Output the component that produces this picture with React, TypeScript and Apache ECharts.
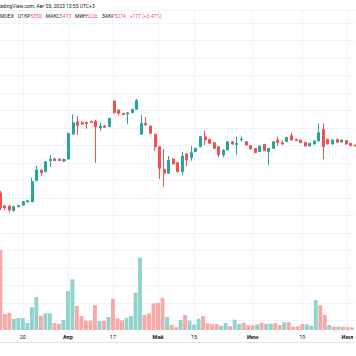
import { useEffect, useRef } from "react";
import * as echarts from "echarts";

const dates = [
  "2023-03-13","2023-03-14","2023-03-15","2023-03-16","2023-03-17","2023-03-20","2023-03-21","2023-03-22","2023-03-23","2023-03-24",
  "2023-03-27","2023-03-28","2023-03-29","2023-03-30","2023-03-31","2023-04-03","2023-04-04","2023-04-05","2023-04-06","2023-04-07",
  "2023-04-10","2023-04-11","2023-04-12","2023-04-13","2023-04-14","2023-04-17","2023-04-18","2023-04-19","2023-04-20","2023-04-21",
  "2023-04-24","2023-04-25","2023-04-26","2023-04-27","2023-04-28","2023-05-02","2023-05-03","2023-05-04","2023-05-05","2023-05-08",
  "2023-05-10","2023-05-11","2023-05-12","2023-05-15","2023-05-16","2023-05-17","2023-05-18","2023-05-19","2023-05-22","2023-05-23",
  "2023-05-24","2023-05-25","2023-05-26","2023-05-29","2023-05-30","2023-05-31","2023-06-01","2023-06-02","2023-06-05","2023-06-06",
  "2023-06-07","2023-06-08","2023-06-09","2023-06-13","2023-06-14","2023-06-15","2023-06-16","2023-06-19","2023-06-20","2023-06-21",
  "2023-06-22","2023-06-23","2023-06-26","2023-06-27","2023-06-28","2023-06-29","2023-06-30","2023-07-03","2023-07-04",
];

const opens = [
  3375, 3245, 3245, 3198, 3238, 3255, 3285, 3288, 3498, 3605,
  3588, 3698, 3718, 3715, 3695, 3715, 3965, 4088, 4078, 4080,
  4092, 4092, 4028, 4045, 4038, 4295, 4205, 4172, 4165, 4178,
  4212, 3962, 4072, 4045, 3962, 3838, 3612, 3572, 3715, 3678,
  3588, 3765, 3732, 3788, 3838, 3938, 3912, 3878, 3838, 3755,
  3805, 3888, 3860, 3907, 3888, 3848, 3822, 3788, 3862, 3788,
  3822, 3905, 3878, 3888, 3948, 3912, 3905, 3882, 3845, 3865,
  3895, 4012, 3912, 3865, 3912, 3885, 3898, 3872, 3855,
];
const closes = [
  3225, 3225, 3205, 3238, 3248, 3288, 3298, 3488, 3605, 3578,
  3688, 3715, 3698, 3698, 3710, 3972, 4078, 4048, 4065, 4070,
  4082, 4038, 4045, 4032, 4122, 4178, 4172, 4158, 4178, 4212,
  4298, 4072, 4055, 3972, 3838, 3622, 3572, 3705, 3665, 3588,
  3745, 3705, 3778, 3822, 3938, 3905, 3872, 3822, 3755, 3805,
  3888, 3865, 3870, 3915, 3855, 3815, 3778, 3845, 3798, 3822,
  3888, 3878, 3865, 3932, 3905, 3898, 3878, 3845, 3872, 3895,
  3978, 3838, 3865, 3905, 3882, 3905, 3865, 3848, 3845,
];
const lows = [
  3205, 3205, 3179, 3190, 3230, 3250, 3280, 3285, 3495, 3548,
  3585, 3635, 3695, 3695, 3685, 3705, 3960, 3955, 4055, 4018,
  4075, 3678, 3998, 4025, 4035, 4170, 4148, 4155, 4065, 4175,
  4210, 3960, 4050, 3965, 3795, 3515, 3438, 3570, 3660, 3585,
  3555, 3645, 3698, 3785, 3835, 3855, 3865, 3815, 3732, 3732,
  3800, 3860, 3755, 3888, 3850, 3810, 3775, 3785, 3795, 3655,
  3820, 3848, 3855, 3885, 3900, 3895, 3875, 3840, 3840, 3860,
  3890, 3712, 3860, 3860, 3878, 3880, 3860, 3845, 3840,
];
const highs = [
  3395, 3255, 3255, 3250, 3260, 3295, 3305, 3528, 3645, 3610,
  3695, 3755, 3725, 3720, 3720, 3975, 4162, 4145, 4095, 4090,
  4100, 4105, 4075, 4055, 4125, 4300, 4210, 4175, 4180, 4215,
  4315, 4155, 4132, 4050, 3965, 3840, 3815, 3745, 3720, 3685,
  3785, 3775, 3845, 3825, 3945, 3998, 3920, 3885, 3845, 3810,
  3895, 3895, 3938, 3938, 3895, 3855, 3825, 3850, 3865, 3825,
  3890, 3938, 3905, 3935, 3978, 3915, 3908, 3885, 3875, 3900,
  4072, 4072, 3915, 3910, 3915, 3908, 3902, 3875, 3858,
];
const volumes = [
  80, 16, 17.3, 11, 12, 12, 7, 22.7, 33, 14.3,
  16.7, 16.7, 7, 6, 10, 39, 50.7, 24, 14, 9.3,
  9.3, 25, 9, 9, 13, 31.3, 11.7, 9.7, 12, 14,
  37.3, 72.3, 15, 16.7, 26.7, 27, 32, 13, 5.3, 2.7,
  10, 15, 9.3, 5.3, 11.3, 14, 6.7, 5.7, 6, 4.3,
  7, 4, 10.3, 6, 7.3, 4.7, 4.7, 5.7, 7.3, 6,
  6.3, 7, 5, 7.7, 8, 3.3, 3.7, 6, 5.7, 4.3,
  30, 24.7, 15, 5, 3.3, 3.3, 3.3, 3, 2.7,
];

const tickDates = ["2023-03-20","2023-04-03","2023-04-17","2023-05-02","2023-05-15","2023-06-01","2023-06-19","2023-07-03"];
const tickTexts = ["20","Апр","17","Май","15","Июн","19","Июл"];
const monthTexts = ["Апр","Май","Июн","Июл"];

const headerLine = "adingView.com, Авг 03, 2023 13:55 UTC+3";
const legendSymbol = "MOEX";
const legendLabels = ["ОТКР","МАКС","МИН","ЗАКР"];
const legendValues = ["5350","5475","5226","5274"];
const legendChange = "+177 (+3.47%)";

const UP = "#26a69a";
const DOWN = "#ef5350";
const UP_VOL = "#92d2cc";
const DOWN_VOL = "#f7a9a7";
const GRID = "#f0f3fa";
const TEXT = "#131722";
const FONT = "Roboto, 'Open Sans', sans-serif";

export default function App() {
  const ref = useRef<HTMLDivElement>(null);
  useEffect(() => {
    document.body.style.margin = "0";
    const chart = echarts.init(ref.current!, null, { renderer: "svg" });
    const candleData = dates.map((_, i) => [opens[i], closes[i], lows[i], highs[i]]);
    const volData = volumes.map((v, i) => ({
      value: v,
      itemStyle: { color: closes[i] >= opens[i] ? UP_VOL : DOWN_VOL },
    }));
    const isTick = (_: number, v: string) => tickDates.indexOf(v) >= 0;

    let legendText = `{d|${legendSymbol}}`;
    legendLabels.forEach((t, k) => {
      legendText += `{g|}{d|${t}}{r|${legendValues[k]}}`;
    });
    legendText += `{g|}{r|${legendChange}}`;

    const graphic: any[] = [
      { type: "line", shape: { x1: 0, y1: 10.5, x2: 356, y2: 10.5 }, style: { stroke: GRID, lineWidth: 1 }, silent: true },
      { type: "line", shape: { x1: 0, y1: 342.5, x2: 356, y2: 342.5 }, style: { stroke: "#e0e3eb", lineWidth: 1 }, silent: true },
      { type: "text", x: 0, y: 5.5, style: { text: headerLine, fill: TEXT, fontSize: 5, fontFamily: FONT, verticalAlign: "middle" } },
      {
        type: "text",
        x: 0,
        y: 15.7,
        style: {
          text: legendText,
          verticalAlign: "middle",
          fontSize: 5,
          fontFamily: FONT,
          rich: {
            d: { fill: TEXT, fontSize: 5, fontFamily: FONT },
            r: { fill: DOWN, fontSize: 5, fontFamily: FONT },
            g: { width: 4 },
          },
        },
      },
    ];

    chart.setOption({
      animation: false,
      backgroundColor: "#ffffff",
      grid: [
        { left: 0.3, right: 0.8, top: 10.5, bottom: 26 },
        { left: 0.3, right: 0.8, top: 23, bottom: 35.5 },
      ],
      xAxis: [
        {
          type: "category",
          gridIndex: 0,
          data: dates,
          boundaryGap: false,
          axisLine: { show: false },
          axisTick: { show: false },
          splitLine: { show: true, interval: isTick, lineStyle: { color: GRID, width: 1 } },
          axisLabel: {
            interval: isTick,
            margin: 4,
            formatter: (v: string) => {
              const t = tickTexts[tickDates.indexOf(v)] || "";
              return monthTexts.indexOf(t) >= 0 ? `{b|${t}}` : `{n|${t}}`;
            },
            rich: {
              b: { fontSize: 5.5, fontWeight: "bold", color: TEXT, fontFamily: FONT },
              n: { fontSize: 5.5, color: TEXT, fontFamily: FONT },
            },
          },
        },
        {
          type: "category",
          gridIndex: 1,
          data: dates,
          boundaryGap: false,
          show: false,
        },
      ],
      yAxis: [
        {
          type: "value",
          gridIndex: 0,
          min: 0,
          max: 319.5,
          show: false,
          splitLine: { show: false },
        },
        {
          type: "value",
          gridIndex: 1,
          min: 2100,
          max: 5075,
          interval: 175,
          axisLabel: { show: false },
          axisLine: { show: false },
          axisTick: { show: false },
          splitLine: { show: true, lineStyle: { color: GRID, width: 1 } },
        },
      ],
      series: [
        {
          type: "bar",
          xAxisIndex: 0,
          yAxisIndex: 0,
          data: volData,
          barWidth: 3.9,
        },
        {
          type: "candlestick",
          xAxisIndex: 1,
          yAxisIndex: 1,
          data: candleData,
          barWidth: 2.5,
          itemStyle: {
            color: UP,
            color0: DOWN,
            borderColor: UP,
            borderColor0: DOWN,
            borderWidth: 1,
          },
        },
      ],
      graphic,
    });
    return () => chart.dispose();
  }, []);
  return <div ref={ref} style={{ width: 356, height: 356, position: "absolute", left: 0, top: 0 }} />;
}
